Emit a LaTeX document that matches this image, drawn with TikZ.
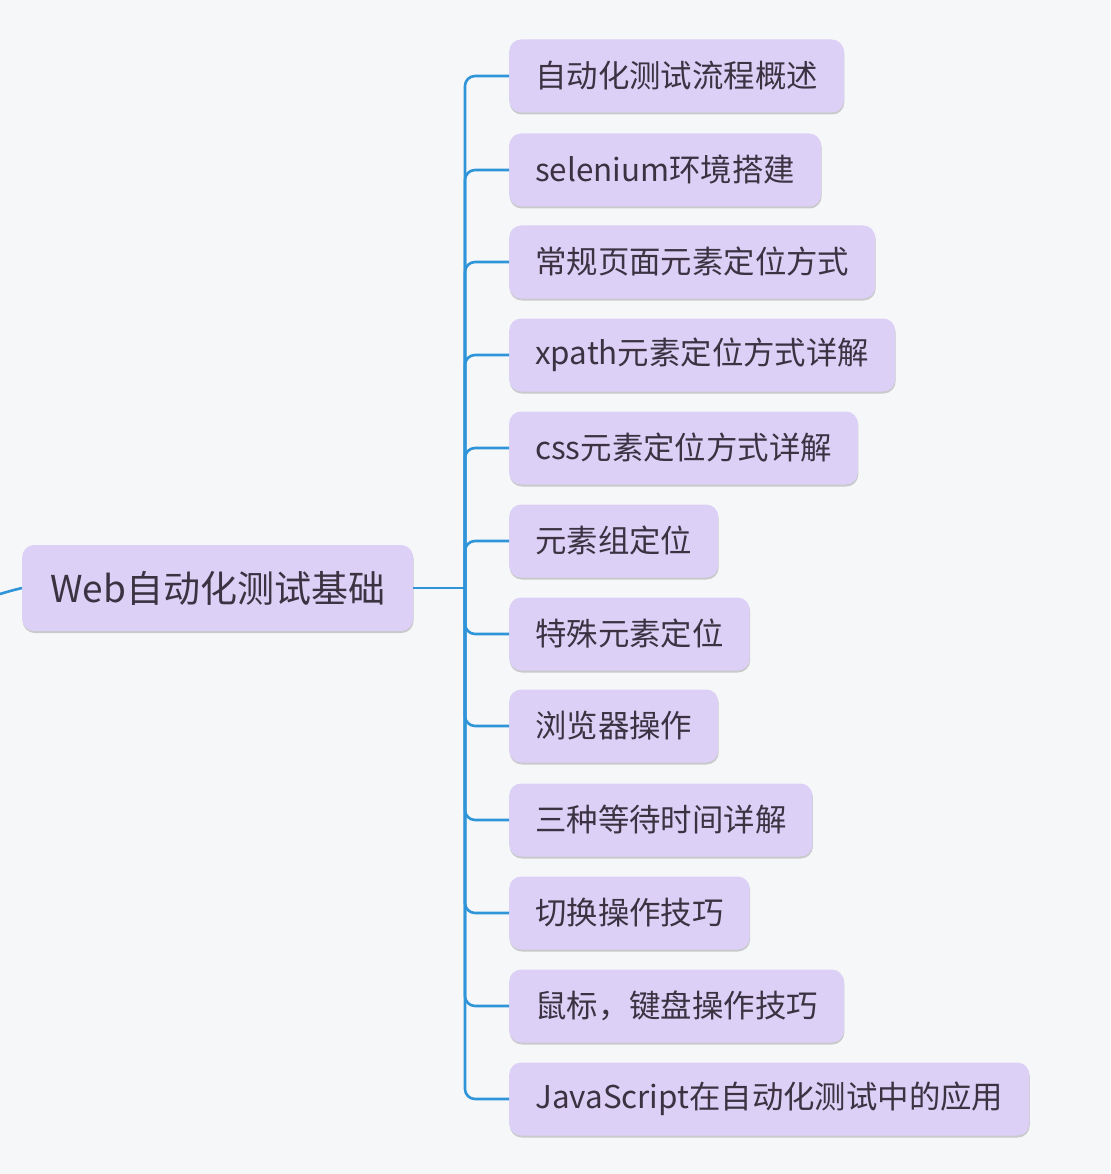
\documentclass[tikz,border=0pt]{standalone}
\usepackage{fontspec}
\newfontfamily\cjk{Noto Sans CJK SC}
\usetikzlibrary{shadows}
\definecolor{bgc}{HTML}{F6F7F9}
\definecolor{boxc}{HTML}{DDD0F7}
\definecolor{txtc}{HTML}{3B3342}
\definecolor{linec}{HTML}{2F95D8}
\tikzset{
  base/.style={fill=boxc, rounded corners=12pt, text=txtc, anchor=west,
    drop shadow={shadow xshift=0.5pt, shadow yshift=-2pt, opacity=0.18, fill=black}},
  rootbox/.style={base, font=\cjk\fontsize{37}{40}\selectfont, minimum height=86pt, inner xsep=28pt},
  kid/.style={base, font=\cjk\fontsize{31.4}{34}\selectfont, minimum height=73pt, inner xsep=26pt},
  conn/.style={draw=linec, line width=2.6pt, rounded corners=10pt}
}
\begin{document}
\begin{tikzpicture}[x=1pt,y=-1pt]
\fill[bgc] (0,0) rectangle (1110,1174);
\useasboundingbox (0,0) rectangle (1110,1174);
\node[rootbox] (root) at (22,588) {Web自动化测试基础};
\node[kid] (c1) at (509,76) {自动化测试流程概述};
\node[kid] (c2) at (509,170) {selenium环境搭建};
\node[kid] (c3) at (509,262) {常规页面元素定位方式};
\node[kid] (c4) at (509,355) {xpath元素定位方式详解};
\node[kid] (c5) at (509,448) {css元素定位方式详解};
\node[kid] (c6) at (509,541) {元素组定位};
\node[kid] (c7) at (509,634) {特殊元素定位};
\node[kid] (c8) at (509,726) {浏览器操作};
\node[kid] (c9) at (509,820) {三种等待时间详解};
\node[kid] (c10) at (509,913) {切换操作技巧};
\node[kid] (c11) at (509,1006) {鼠标，键盘操作技巧};
\node[kid] (c12) at (509,1099) {JavaScript在自动化测试中的应用};
\coordinate (j) at (465,588);
\coordinate (L) at (0,594);
\draw[conn] (L) .. controls (10,591) .. (root.west);
\draw[conn, rounded corners=0pt] (root.east) -- (j);
\foreach \i in {1,...,12}{
  \draw[conn] (j) |- (c\i.west);
}
\end{tikzpicture}
\end{document}
